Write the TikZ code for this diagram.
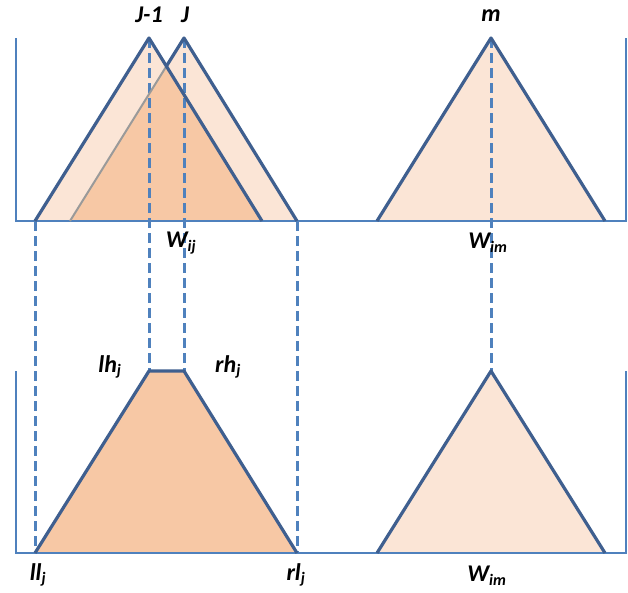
\documentclass[tikz,border=0pt]{standalone}
\usepackage{fontspec}
\setmainfont{Carlito}
\definecolor{axisblue}{HTML}{4F81BD}
\definecolor{edgeblue}{HTML}{3F5F8F}
\definecolor{lightpeach}{HTML}{FBE5D6}
\definecolor{darkpeach}{HTML}{F7C8A5}
\definecolor{grayedge}{HTML}{9A9A9A}
\tikzset{
  axisline/.style={axisblue, line width=2.8pt},
  edge/.style={edgeblue, line width=3.2pt, line join=round},
  guide/.style={axisblue, line width=3pt, dash pattern=on 10pt off 5pt},
  lbl/.style={inner sep=0pt, font=\fontsize{24}{28}\selectfont\bfseries\itshape},
}
\newcommand{\sbs}[1]{\textsubscript{\fontsize{16}{18}\selectfont #1}}
\begin{document}
\begin{tikzpicture}[x=1pt,y=-1pt]
\useasboundingbox (0,0) rectangle (628,592);
% key points
\coordinate (A1) at (35,221);   \coordinate (P1) at (149,38);  \coordinate (B1) at (262,221);
\coordinate (A2) at (70,221);   \coordinate (P2) at (184,38);  \coordinate (B2) at (297,221);
\coordinate (X)  at (166.4,66.2);
\coordinate (A3) at (377,221);  \coordinate (P3) at (491,38);  \coordinate (B3) at (605,221);
\coordinate (LL) at (35,553);   \coordinate (LH) at (149,371); \coordinate (RH) at (184,371); \coordinate (RL) at (297,553);
\coordinate (A4) at (377,553);  \coordinate (P4) at (491,371); \coordinate (B4) at (605,553);
% fills top
\fill[lightpeach] (A1) -- (P1) -- (B1) -- cycle;
\fill[lightpeach] (A2) -- (P2) -- (B2) -- cycle;
\fill[darkpeach] (A2) -- (X) -- (B1) -- cycle;
\fill[lightpeach] (A3) -- (P3) -- (B3) -- cycle;
% fills bottom
\fill[darkpeach] (LL) -- (LH) -- (RH) -- (RL) -- cycle;
\fill[lightpeach] (A4) -- (P4) -- (B4) -- cycle;
% axes
\draw[axisline] (16,38) -- (16,221) -- (626,221) -- (626,38);
\draw[axisline] (16,371) -- (16,553) -- (626,553) -- (626,371);
% guides
\draw[guide] (A1) -- (LL);
\draw[guide] (B2) -- (RL);
\draw[guide] (P1) -- (LH);
\draw[guide] (P2) -- (RH);
\draw[guide] (P3) -- (P4);
% outlines
\draw[grayedge, line width=2pt] (A2) -- (X);
\draw[edge] (A1) -- (P1) -- (B1);
\draw[edge] (X) -- (P2) -- (B2);
\draw[edge] (A3) -- (P3) -- (B3);
\draw[edge] (LL) -- (LH) -- (RH) -- (RL);
\draw[edge] (A4) -- (P4) -- (B4);
% labels
\node[lbl] (lJm) at (149,15) {J-1};
\node[lbl] (lJ) at (185,15) {J};
\node[lbl] (lm) at (491,16) {m};
\node[lbl] (wij) at (181,243) {W\sbs{ij}};
\node[lbl] (wim1) at (488,243) {W\sbs{im}};
\node[lbl] (lh) at (110,367) {lh\sbs{j}};
\node[lbl] (rh) at (228,367) {rh\sbs{j}};
\node[lbl] (ll) at (38,575) {ll\sbs{j}};
\node[lbl] (rl) at (296,575) {rl\sbs{j}};
\node[lbl] (wim2) at (487,576) {W\sbs{im}};
\end{tikzpicture}
\end{document}
